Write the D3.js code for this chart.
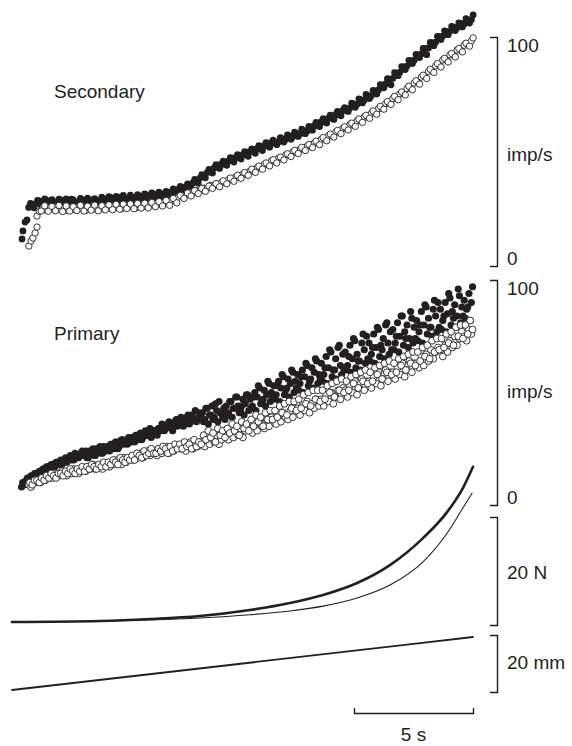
<!DOCTYPE html>
<html>
<head>
<meta charset="utf-8">
<script src="https://cdn.jsdelivr.net/npm/d3@7"></script>
<style>
	body { margin: 0; background: #fff; }
	svg { display: block; background: #fff; }
	text { font-family: "Liberation Sans", Arial, sans-serif; font-size: 19px; fill: #231f20; }
	.bracket path { fill: none; stroke: #231f20; stroke-width: 1.4; }
	.trace { fill: none; stroke: #231f20; stroke-linecap: round; }
	circle.filled { fill: #231f20; }
	circle.open { fill: #fff; stroke: #231f20; stroke-width: 0.9; }
</style>
</head>
<body>
<svg id="fig" width="572" height="746"></svg>
<script>
/*********************************************************\
* Secondary and primary ending discharge during a ramp     *
\*********************************************************/

// sampling interval (s) and first sample time of each spike-rate series;
// the "2" series are the spikes that fall between the first ones
var secondaryStep = 0.15,
	primaryStep = 0.1,
	secondaryFilledStart = 0.7,
	secondaryFilled2Start = 0.775,
	secondaryOpenStart = 1.15,
	secondaryOpen2Start = 1.225,
	primaryFilledStart = 0.4,
	primaryFilled2Start = 0.45,
	primaryOpenStart = 0.7,
	primaryOpen2Start = 0.75,
	rampEnd = 19.37;

// instantaneous rate, imp/s
var secondaryFilled = [
	25.6, 26.9, 27.2, 28.4, 27.5, 28.6, 27.3, 28.1, 27.0, 28.8,
	27.6, 28.3, 29.2, 27.4, 28.0, 28.9, 27.8, 29.0, 28.2, 27.5,
	28.7, 29.4, 28.3, 29.8, 28.9, 29.1, 30.2, 28.8, 29.6, 30.0,
	29.4, 30.6, 30.1, 31.0, 30.3, 31.4, 30.7, 31.6, 30.9, 31.8,
	32.4, 31.8, 33.6, 33.0, 34.5, 34.8, 36.3, 36.6, 38.4, 39.0,
	40.8, 41.0, 42.9, 43.1, 44.6, 44.3, 45.9, 46.0, 47.4, 47.3,
	48.6, 48.5, 50.0, 49.9, 51.3, 51.1, 52.6, 52.4, 54.0, 53.6,
	54.2, 55.6, 55.3, 56.8, 56.5, 57.9, 57.6, 59.2, 58.9, 60.6,
	61.3, 61.2, 63.0, 62.8, 64.6, 64.5, 66.2, 65.9, 67.9, 67.8,
	69.0, 70.8, 70.6, 72.6, 72.4, 74.5, 74.3, 76.4, 76.9, 79.0,
	79.5, 81.6, 81.9, 84.2, 84.6, 86.9, 87.3, 89.6, 89.9, 92.2,
	92.6, 94.9, 95.2, 97.4, 97.7, 100.1, 100.4, 102.3, 102.5, 104.3,
	104.0, 105.9, 105.7, 107.6, 107.5
];
var secondaryFilled2 = [
	27.3, 25.4, 28.6, 26.5, 29.3, 26.6, 29.0, 26.8, 29.2, 26.7,
	29.3, 26.9, 28.9, 27.0, 29.5, 27.2, 29.6, 27.3, 29.4, 27.6,
	30.1, 27.7, 30.3, 28.0, 30.4, 28.1, 30.8, 28.4, 30.9, 28.7,
	31.2, 28.9, 31.5, 29.6, 31.9, 30.0, 32.3, 30.4, 32.6, 30.8,
	33.7, 31.6, 34.8, 32.7, 35.9, 34.3, 37.8, 36.2, 39.9, 38.5,
	42.2, 40.6, 44.3, 42.6, 45.8, 44.0, 47.3, 45.4, 48.6, 46.7,
	49.9, 47.9, 51.1, 49.2, 52.6, 50.4, 53.9, 51.9, 55.0, 53.0,
	56.1, 54.1, 57.3, 55.4, 58.5, 56.6, 59.8, 57.8, 61.0, 59.3,
	62.7, 60.9, 64.3, 62.4, 65.9, 64.0, 67.5, 65.6, 69.2, 67.5,
	71.1, 69.3, 73.0, 71.2, 74.9, 73.1, 76.7, 75.1, 79.2, 77.8,
	81.8, 79.1, 84.4, 83.1, 87.1, 85.8, 89.8, 88.4, 92.4, 91.0,
	95.0, 92.3, 97.6, 96.2, 100.3, 98.9, 102.7, 101.0, 104.6, 102.8,
	106.2, 104.4, 108.0, 106.1, 109.6
];
var secondaryOpen = [
	23.8, 25.3, 24.4, 25.6, 24.8, 25.9, 24.5, 25.2, 24.2, 25.7,
	24.6, 25.8, 25.0, 24.3, 25.5, 26.0, 24.7, 25.4, 24.9, 26.1,
	25.2, 26.3, 25.5, 25.0, 26.6, 25.9, 26.2, 25.4, 26.8, 26.0,
	26.1, 27.0, 26.5, 27.5, 26.9, 27.9, 27.4, 28.6, 28.4, 30.1,
	30.5, 30.9, 32.0, 31.7, 33.1, 32.8, 34.0, 33.9, 35.2, 35.0,
	35.2, 36.5, 36.4, 37.7, 37.5, 38.9, 38.6, 40.1, 40.0, 41.4,
	41.4, 42.9, 42.7, 44.3, 44.2, 45.9, 45.6, 47.1, 46.9, 48.5,
	48.4, 49.8, 49.5, 50.9, 51.0, 52.3, 52.1, 53.7, 53.6, 55.3,
	55.4, 56.9, 56.8, 58.5, 58.4, 60.1, 60.0, 61.8, 61.5, 63.4,
	63.6, 65.1, 64.9, 66.7, 66.8, 68.7, 68.9, 70.9, 71.0, 73.1,
	73.3, 75.2, 75.4, 77.5, 77.6, 79.9, 80.1, 82.5, 82.6, 85.0,
	85.2, 87.4, 87.7, 90.0, 89.9, 92.2, 92.0, 94.3, 94.2, 96.4,
	96.5, 98.3
];
var secondaryOpen2 = [
	24.0, 26.3, 23.9, 26.0, 24.1, 26.4, 23.8, 26.2, 24.0, 25.9,
	24.2, 26.5, 24.0, 26.1, 24.4, 26.6, 24.1, 26.3, 24.5, 26.7,
	24.6, 26.9, 24.8, 27.0, 25.1, 27.1, 25.0, 27.3, 25.3, 27.4,
	25.4, 27.7, 25.9, 28.1, 26.2, 28.6, 26.5, 29.5, 27.6, 30.8,
	29.5, 31.9, 30.6, 32.9, 31.6, 33.9, 32.6, 34.9, 33.9, 36.0,
	34.6, 37.2, 35.9, 38.4, 37.0, 39.6, 38.3, 40.8, 39.6, 42.3,
	40.9, 43.6, 42.3, 45.0, 43.7, 46.4, 45.0, 47.6, 46.3, 49.0,
	47.8, 50.5, 49.1, 51.8, 50.4, 53.1, 51.7, 54.5, 53.0, 56.1,
	54.7, 57.6, 56.3, 59.2, 57.8, 60.8, 59.4, 62.4, 61.0, 64.2,
	62.7, 65.8, 64.5, 67.7, 66.3, 69.7, 68.5, 71.8, 70.6, 74.1,
	72.6, 76.0, 74.7, 78.5, 77.0, 80.9, 79.4, 83.3, 81.9, 85.9,
	84.5, 88.4, 86.9, 90.7, 89.1, 92.8, 91.3, 95.0, 93.5, 97.3,
	96.0, 99.6
];
// first spikes of the secondary, [s, imp/s]
var secondaryFilledOnset = [[0.42, 11.8], [0.46, 15.3], [0.55, 19.2], [0.63, 20.1]];
var secondaryOpenOnset = [[0.71, 8.7], [0.80, 10.9], [0.88, 12.2], [0.97, 14.4], [1.05, 17.0], [1.05, 21.8]];

var primaryFilled = [
	8, 10, 11, 11, 13, 12,
	14, 13, 15, 16, 15, 17, 16, 18, 17, 19,
	19, 18, 20, 19, 21, 20, 20, 22, 21, 23,
	22, 24, 21, 23, 25, 22, 24, 26, 23, 25,
	26, 24, 27, 25, 28, 26, 29, 27, 28, 30,
	28, 30, 31, 29, 32, 30, 33, 31, 34, 32,
	33, 31, 34, 36, 33, 35, 37, 34, 36, 38,
	36, 39, 35, 38, 40, 37, 39, 42, 38, 40,
	41, 38, 43, 40, 44, 39, 42, 46, 41, 43,
	44, 41, 46, 43, 48, 44, 42, 47, 45, 49,
	47, 44, 50, 48, 52, 46, 51, 49, 54, 50,
	53, 49, 55, 52, 57, 51, 56, 54, 59, 55,
	58, 54, 60, 57, 62, 55, 61, 59, 64, 58,
	63, 58, 66, 61, 68, 60, 65, 70, 62, 67,
	68, 62, 71, 65, 73, 67, 64, 72, 69, 75,
	72, 67, 76, 70, 78, 71, 74, 80, 72, 77,
	78, 72, 81, 75, 84, 77, 80, 74, 83, 79,
	82, 77, 86, 80, 88, 83, 79, 87, 84, 90,
	87, 82, 90, 85, 92, 86, 89, 84, 93, 88,
	91, 87, 94, 90
];
var primaryFilled2 = [
	10, 9, 12, 10, 12, 14,
	13, 15, 14, 16, 17, 16, 18, 17, 19, 18,
	20, 19, 21, 20, 22, 21, 23, 21, 22, 24,
	23, 21, 24, 23, 22, 25, 24, 23, 26, 24,
	25, 27, 26, 28, 25, 27, 29, 28, 27, 29,
	30, 28, 31, 30, 29, 32, 31, 33, 30, 33,
	32, 34, 33, 35, 34, 36, 35, 33, 37, 35,
	38, 36, 37, 39, 36, 40, 38, 37, 41, 39,
	37, 43, 36, 40, 38, 45, 37, 41, 39, 38,
	40, 46, 39, 43, 48, 41, 44, 40, 49, 42,
	43, 48, 42, 53, 45, 47, 44, 55, 46, 48,
	47, 53, 46, 58, 49, 52, 48, 60, 50, 52,
	51, 57, 50, 63, 53, 56, 52, 65, 54, 56,
	55, 61, 54, 69, 57, 60, 56, 71, 58, 60,
	60, 66, 59, 74, 61, 64, 60, 76, 63, 65,
	64, 70, 63, 79, 66, 69, 65, 81, 67, 69,
	69, 75, 68, 84, 71, 74, 70, 86, 72, 74,
	73, 80, 72, 89, 76, 79, 75, 91, 77, 79,
	78, 84, 77, 94, 80, 83, 79, 96, 81, 84,
	83, 88, 82, 97
];
var primaryOpen = [
	9, 8, 10,
	10, 11, 10, 12, 11, 13, 12, 12, 14, 13,
	13, 15, 14, 13, 15, 14, 16, 15, 14, 16,
	16, 15, 17, 16, 18, 16, 17, 18, 16, 18,
	18, 17, 19, 18, 20, 19, 18, 21, 19, 20,
	21, 20, 22, 21, 23, 21, 22, 24, 22, 23,
	24, 22, 25, 23, 24, 26, 23, 25, 24, 26,
	26, 25, 27, 24, 26, 28, 25, 27, 26, 28,
	28, 26, 29, 27, 30, 28, 31, 27, 29, 31,
	31, 29, 32, 30, 33, 31, 34, 30, 33, 35,
	34, 32, 36, 33, 37, 35, 34, 38, 35, 39,
	38, 36, 40, 37, 41, 39, 38, 42, 39, 43,
	43, 40, 44, 42, 46, 41, 45, 43, 47, 44,
	47, 44, 49, 46, 50, 45, 48, 51, 47, 52,
	51, 48, 53, 50, 55, 49, 52, 56, 51, 55,
	55, 52, 57, 54, 59, 53, 56, 60, 55, 59,
	59, 56, 61, 58, 63, 57, 60, 64, 59, 63,
	63, 61, 66, 62, 67, 64, 69, 65, 68, 70,
	69, 66, 71, 68, 73, 70, 75, 71, 74, 77,
	75, 73, 78, 76
];
var primaryOpen2 = [
	10, 9, 11,
	11, 10, 12, 11, 13, 12, 14, 13, 12, 14,
	14, 13, 15, 14, 16, 15, 14, 16, 15, 17,
	15, 17, 16, 18, 17, 16, 18, 17, 19, 17,
	19, 18, 20, 19, 18, 21, 20, 19, 21, 20,
	22, 20, 23, 22, 21, 24, 22, 23, 25, 23,
	23, 25, 24, 26, 25, 23, 26, 24, 27, 25,
	27, 25, 28, 26, 27, 25, 29, 26, 28, 27,
	31, 29, 33, 30, 32, 28, 34, 31, 33, 30,
	34, 32, 36, 33, 35, 31, 37, 34, 36, 33,
	38, 35, 40, 37, 39, 35, 41, 38, 42, 38,
	42, 39, 44, 41, 45, 40, 46, 43, 46, 42,
	47, 43, 49, 45, 50, 44, 51, 47, 51, 46,
	51, 47, 53, 50, 54, 48, 55, 51, 56, 50,
	55, 51, 57, 54, 58, 52, 59, 55, 60, 54,
	59, 55, 61, 58, 62, 56, 63, 59, 64, 58,
	63, 59, 65, 62, 66, 60, 67, 63, 68, 62,
	68, 64, 70, 66, 71, 65, 73, 68, 74, 69,
	74, 70, 76, 72, 77, 71, 79, 75, 80, 74,
	80, 76, 82, 78
];

// muscle force, [s, N] (two contractions) and length, [s, mm]
var forceThick = [
	[0, 0.56], [3.7, 0.74], [5.8, 1.1], [7.9, 1.67], [10.0, 2.78], [11.68, 4.07],
	[13.07, 5.56], [14.5, 7.78], [15.88, 11.1], [17.27, 16.1], [18.28, 20.9],
	[18.95, 25.4], [19.37, 29.3]
];
var forceThin = [
	[0, 0.56], [3.7, 0.7], [5.8, 0.93], [7.9, 1.3], [10.0, 1.9], [11.68, 2.6],
	[13.07, 3.5], [14.5, 5.0], [15.88, 7.4], [17.27, 11.7], [18.28, 17.0],
	[18.95, 21.7], [19.33, 24.4]
];
var lengthTrace = [[0, 0.7], [9.7, 10.0], [19.37, 19.3]];

// scale bar labels
var rateLabels = ['100', 'imp/s', '0'];
var forceLabel = '20 N',
	lengthLabel = '20 mm',
	timeLabel = '5 s';

//------------------------------------------------------------------------------

function sampled(values, start, step)
{
	return values.map(function (v, i) { return [start + i * step, v]; });
}

function Figure(id)
{
	this.svg = d3.select('#' + id);
	this.svg.selectAll('*').remove();

	this.x = d3.scaleLinear().domain([0, rampEnd]).range([12, 473]);
	this.ySec = d3.scaleLinear().domain([0, 100]).range([266, 37]);
	this.yPri = d3.scaleLinear().domain([0, 100]).range([505, 280]);
	this.yForce = d3.scaleLinear().domain([0, 20]).range([625, 517]);
	this.yLength = d3.scaleLinear().domain([0, 20]).range([692, 635]);
	this.barX = 497;
}

//- - - - - - - - - - - - - - - - - - - - - - - - - - - - - - - - - - - - - - -

Figure.prototype.drawScatter = function(y, points, cls, r)
{
	var x = this.x;

	this.svg.append('g')
		.selectAll('circle')
		.data(points)
		.enter()
		.append('circle')
		.attr('class', cls)
		.attr('cx', function (d) { return x(d[0]); })
		.attr('cy', function (d) { return y(d[1]); })
		.attr('r', r)
	;
}

//- - - - - - - - - - - - - - - - - - - - - - - - - - - - - - - - - - - - - - -

Figure.prototype.drawTrace = function(y, points, width)
{
	var x = this.x,
		line = d3.line()
			.x(function (d) { return x(d[0]); })
			.y(function (d) { return y(d[1]); })
			.curve(d3.curveMonotoneX);

	this.svg.append('path')
		.datum(points)
		.attr('class', 'trace')
		.attr('stroke-width', width)
		.attr('d', line)
	;
}

//- - - - - - - - - - - - - - - - - - - - - - - - - - - - - - - - - - - - - - -

Figure.prototype.drawBracket = function(y)
{
	this.svg.append('g')
		.attr('class', 'bracket')
		.attr('transform', 'translate(' + this.barX + ',0)')
		.call(d3.axisLeft(y).tickValues([]).tickSizeOuter(7))
	;
}

Figure.prototype.label = function(text, x, y, anchor)
{
	this.svg.append('text')
		.attr('x', x)
		.attr('y', y)
		.attr('text-anchor', anchor || 'start')
		.text(text)
	;
}

//- - - - - - - - - - - - - - - - - - - - - - - - - - - - - - - - - - - - - - -

Figure.prototype.drawRatePanel = function(y, title, titleY, filled, open, labelY, r)
{
	this.drawScatter(y, filled, 'filled', r);
	this.drawScatter(y, open, 'open', r - 0.2);
	this.drawBracket(y);
	this.label(title, 54, titleY);
	this.label(rateLabels[0], this.barX + 10, y(100) + 15);
	this.label(rateLabels[1], this.barX + 10, labelY);
	this.label(rateLabels[2], this.barX + 10, y(0) - 1);
}

Figure.prototype.draw = function()
{
	var x = this.x;

	this.drawRatePanel(this.ySec, 'Secondary', 98,
		secondaryFilledOnset
			.concat(sampled(secondaryFilled, secondaryFilledStart, secondaryStep))
			.concat(sampled(secondaryFilled2, secondaryFilled2Start, secondaryStep)),
		secondaryOpenOnset
			.concat(sampled(secondaryOpen, secondaryOpenStart, secondaryStep))
			.concat(sampled(secondaryOpen2, secondaryOpen2Start, secondaryStep)),
		161, 3.4);

	this.drawRatePanel(this.yPri, 'Primary', 340,
		sampled(primaryFilled, primaryFilledStart, primaryStep)
			.concat(sampled(primaryFilled2, primaryFilled2Start, primaryStep)),
		sampled(primaryOpen, primaryOpenStart, primaryStep)
			.concat(sampled(primaryOpen2, primaryOpen2Start, primaryStep)),
		398, 3.6);

	this.drawTrace(this.yForce, forceThin, 1.1);
	this.drawTrace(this.yForce, forceThick, 2.6);
	this.drawBracket(this.yForce);
	this.label(forceLabel, this.barX + 10, 579);

	this.drawTrace(this.yLength, lengthTrace, 1.8);
	this.drawBracket(this.yLength);
	this.label(lengthLabel, this.barX + 10, 669);

	// 5 s time bar under the end of the ramp
	var bar = x.copy().domain([rampEnd - 5, rampEnd]).range([x(rampEnd - 5), x(rampEnd)]);
	this.svg.append('g')
		.attr('class', 'bracket')
		.attr('transform', 'translate(0,713)')
		.call(d3.axisTop(bar).tickValues([]).tickSizeOuter(5))
	;
	this.label(timeLabel, x(rampEnd - 2.5), 741, 'middle');
}

//------------------------------------------------------------------------------

new Figure('fig').draw();
</script>
</body>
</html>
